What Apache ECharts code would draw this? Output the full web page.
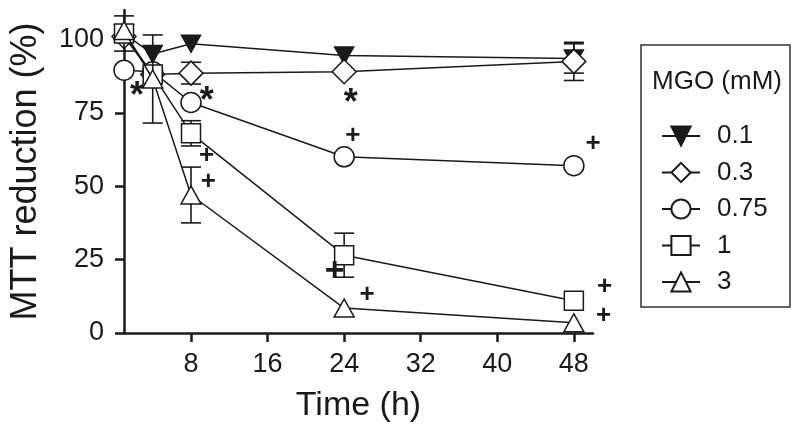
<!DOCTYPE html>
<html>
<head>
<meta charset="utf-8">
<script src="https://cdn.jsdelivr.net/npm/echarts@6/dist/echarts.min.js"></script>
<style>html,body{margin:0;padding:0;background:#fff}#c{width:800px;height:436px}</style>
</head>
<body>
<div id="c"></div>
<script>
var times = [1, 4, 8, 24, 48];
var seriesNames = ['0.1', '0.3', '0.75', '1', '3'];
var v01 = [102, 95, 98.5, 94.5, 93.5];
var v03 = [101, 88, 88.5, 89, 92.5];
var v075 = [89.5, 89, 78.5, 60, 57];
var v1 = [102, 88, 68, 26.5, 11];
var v3 = [103, 86.5, 47, 8.5, 3.5];
var e01 = [null, null, null, null, 5];
var e03 = [null, null, 3.7, null, 6.5];
var e075 = [null, null, null, null, null];
var e1 = [6, null, 4.3, 7.5, null];
var e3 = [null, 15, 9.5, null, null];
var xTicks = [8, 16, 24, 32, 40, 48];
var yTicks = [0, 25, 50, 75, 100];
var annX = [2.35, 9.64, 24.7];
var annY = [83.6, 81.9, 81.2];
var annText = ['*', '*', '*'];
var plusX = [24.9, 50.0, 9.64, 9.8, 26.4, 51.2, 51.1];
var plusY = [67.2, 64.5, 60.2, 51.6, 13.0, 15.8, 5.8];
var bigPlusX = [23.0];
var bigPlusY = [20.9];

var FONT = 'Liberation Sans, Arial, sans-serif';
var INK = '#1a1a1a';
var vals = [v01, v03, v075, v1, v3];
var errs = [e01, e03, e075, e1, e3];
var symbols = ['path://M0,0 L20,0 L10,17 Z', 'diamond', 'circle', 'rect', 'triangle'];
var sizes = [[19, 17], 24, 20, 19, [20, 18]];
var fills = [INK, '#fff', '#fff', '#fff', '#fff'];

var chart = echarts.init(document.getElementById('c'), null, {renderer: 'canvas'});
var series = [];
for (var s = 0; s < vals.length; s++) {
  var ed = [];
  for (var i = 0; i < times.length; i++) {
    if (errs[s][i] != null) ed.push([times[i], vals[s][i] - errs[s][i], vals[s][i] + errs[s][i]]);
  }
  series.push({
    type: 'custom', name: 'err' + s, z: 1 + s * 2, silent: true, clip: false,
    data: ed,
    renderItem: function (params, api) {
      var x = api.value(0);
      var lo = api.coord([x, api.value(1)]);
      var hi = api.coord([x, api.value(2)]);
      var w = 10;
      var st = {stroke: INK, lineWidth: 1.6};
      return {type: 'group', children: [
        {type: 'line', shape: {x1: lo[0], y1: lo[1], x2: hi[0], y2: hi[1]}, style: st},
        {type: 'line', shape: {x1: lo[0] - w, y1: lo[1], x2: lo[0] + w, y2: lo[1]}, style: st},
        {type: 'line', shape: {x1: hi[0] - w, y1: hi[1], x2: hi[0] + w, y2: hi[1]}, style: st}
      ]};
    }
  });
}
for (var s = 0; s < vals.length; s++) {
  series.push({
    type: 'line', name: seriesNames[s], z: 2 + s * 2,
    data: times.map(function (t, i) { return [t, vals[s][i]]; }),
    symbol: symbols[s], symbolSize: sizes[s], showAllSymbol: true,
    lineStyle: {color: INK, width: 1.5},
    itemStyle: {color: fills[s], borderColor: INK, borderWidth: 1.5},
    emphasis: {disabled: true}, animation: false
  });
}
function textSeries(name, data, fmt, size, offset) {
  return {
    type: 'custom', name: name, z: 20, clip: false, silent: true,
    data: data,
    renderItem: function (params, api) {
      var p = api.coord([api.value(0), api.value(1)]);
      return {type: 'text', x: p[0] + offset[0], y: p[1] + offset[1],
        style: {text: fmt, fontSize: size, fontWeight: 'bold', fill: INK, fontFamily: FONT,
          align: 'center', verticalAlign: 'middle'}};
    }
  };
}
series.push(textSeries('stars', annX.map(function (x, i) { return [x, annY[i]]; }), '*', 36, [0, 10]));
series.push(textSeries('plus', plusX.map(function (x, i) { return [x, plusY[i]]; }), '+', 26, [0, 0]));
series.push(textSeries('bigplus', bigPlusX.map(function (x, i) { return [x, bigPlusY[i]]; }), '+', 34, [0, 0]));

chart.setOption({
  animation: false,
  backgroundColor: '#fff',
  grid: {left: 122, right: 207, top: 10, bottom: 103},
  xAxis: {
    type: 'value', min: 1, max: 50,
    name: 'Time (h)', nameLocation: 'middle', nameGap: 56,
    nameTextStyle: {fontSize: 34, color: INK, fontFamily: FONT},
    axisLine: {lineStyle: {color: INK, width: 2.5}},
    axisTick: {show: true, length: 9, lineStyle: {color: INK, width: 2.5}, customValues: xTicks},
    axisLabel: {fontSize: 27, color: INK, fontFamily: FONT, margin: 18, customValues: xTicks},
    splitLine: {show: false}
  },
  yAxis: {
    type: 'value', min: 0, max: 110,
    name: 'MTT reduction (%)', nameLocation: 'middle', nameGap: 80,
    nameTextStyle: {fontSize: 36, color: INK, fontFamily: FONT},
    axisLine: {show: true, lineStyle: {color: INK, width: 2.5}},
    axisTick: {show: true, length: 9, lineStyle: {color: INK, width: 2.5}, customValues: yTicks},
    axisLabel: {fontSize: 27, color: INK, fontFamily: FONT, margin: 20, customValues: yTicks},
    splitLine: {show: false}
  },
  legend: {
    data: seriesNames, orient: 'vertical', left: 656, top: 118,
    itemWidth: 38, itemHeight: 24, itemGap: 10.5,
    textStyle: {fontSize: 26, color: INK, fontFamily: FONT, padding: [0, 0, 0, 12]},
    selectedMode: false
  },
  graphic: [
    {type: 'rect', shape: {x: 641, y: 45, width: 149, height: 262},
      style: {fill: 'none', stroke: '#333', lineWidth: 1.5}},
    {type: 'text', left: 652, top: 69, style: {text: 'MGO (mM)', fontSize: 26, fill: INK, fontFamily: FONT}}
  ],
  series: series
});
</script>
</body>
</html>
